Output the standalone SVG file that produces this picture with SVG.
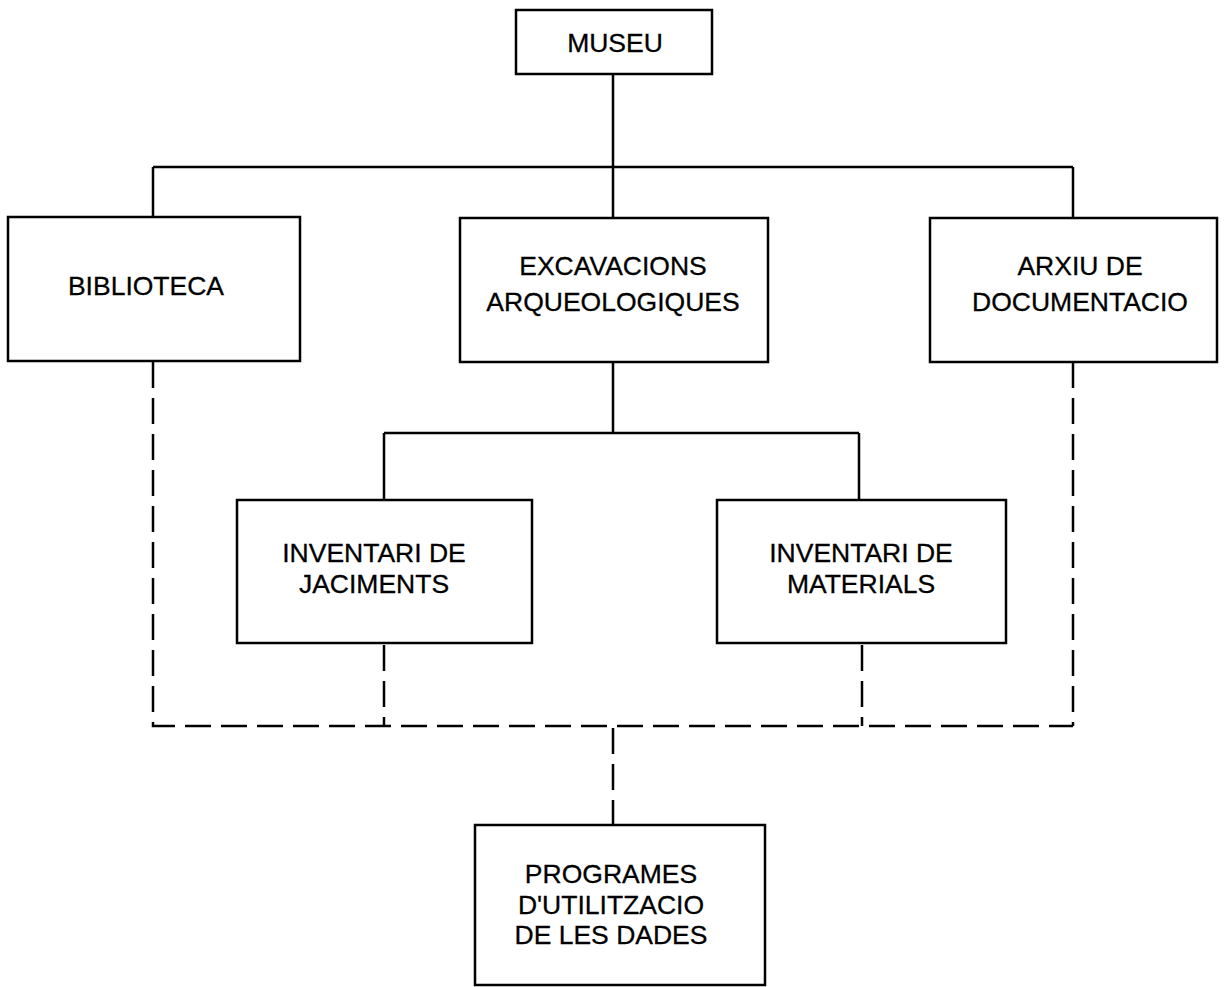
<svg xmlns="http://www.w3.org/2000/svg" width="1225" height="987" viewBox="0 0 1225 987">
<style>
.box{fill:#fff;stroke:#000;stroke-width:2.5}
.t{font-family:"Liberation Sans",Arial,sans-serif;font-size:26.5px;fill:#000;stroke:#000;stroke-width:0.3;text-anchor:middle}
.s{fill:none;stroke:#000;stroke-width:2.5}
.d{fill:none;stroke:#000;stroke-width:2.5;stroke-dasharray:26 10}
</style>
<rect width="1225" height="987" fill="#fff"/>
<g id="connectors">
<path class="s" d="M613 74V218M153 167H1073M153 167V217M1073 167V218M613 362V433M384 433H859M384 433V500M859 433V500"/>
<path class="d" d="M153 362V726H1073"/>
<path class="d" d="M1073 362V726"/>
<path class="d" d="M384 645V726"/>
<path class="d" d="M862 645V726"/>
<path class="d" d="M613 728V824"/>
</g>
<g id="museu"><rect class="box" x="516" y="10" width="196" height="64"/><text class="t" x="615" y="52">MUSEU</text></g>
<g id="biblioteca"><rect class="box" x="8" y="217" width="292" height="144"/><text class="t" x="146" y="295">BIBLIOTECA</text></g>
<g id="excavacions"><rect class="box" x="460" y="218" width="308" height="144"/><text class="t" x="613" y="275">EXCAVACIONS</text><text class="t" x="613" y="311">ARQUEOLOGIQUES</text></g>
<g id="arxiu"><rect class="box" x="930" y="218" width="287" height="144"/><text class="t" x="1080" y="275">ARXIU DE</text><text class="t" x="1080" y="311">DOCUMENTACIO</text></g>
<g id="jaciments"><rect class="box" x="237" y="500" width="295" height="143"/><text class="t" x="374" y="562">INVENTARI DE</text><text class="t" x="374" y="593">JACIMENTS</text></g>
<g id="materials"><rect class="box" x="717" y="500" width="289" height="143"/><text class="t" x="861" y="562">INVENTARI DE</text><text class="t" x="861" y="593">MATERIALS</text></g>
<g id="programes"><rect class="box" x="475" y="825" width="290" height="160"/><text class="t" x="611" y="883">PROGRAMES</text><text class="t" x="611" y="914">D'UTILITZACIO</text><text class="t" x="611" y="944">DE LES DADES</text></g>
</svg>
